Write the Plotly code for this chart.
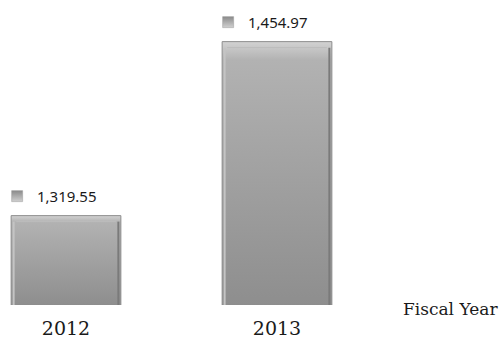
import plotly.graph_objects as go

# Revenue by fiscal year
years = ["2012", "2013"]
values = [1319.55, 1454.97]
value_labels = ["1,319.55", "1,454.97"]

AXIS_MIN = 1250
BAR_W = 0.52

W, H = 503, 339
PLOT_B = 34
PLOT_H = H - PLOT_B
PX_PER_CAT = 211
X0 = -66 / PX_PER_CAT
X1 = X0 + W / PX_PER_CAT
PX_PER_UNIT = 174 / 135.42
Y1 = AXIS_MIN + PLOT_H / PX_PER_UNIT

fig = go.Figure()

idx = list(range(len(years)))
ex = 2.5 / PX_PER_CAT
ey = 6 / PX_PER_UNIT
for i, v in zip(idx, values):
    xl, xr = i - BAR_W / 2, i + BAR_W / 2
    # bar body with vertical shading
    fig.add_trace(go.Scatter(
        x=[xl, xr, xr, xl, xl], y=[AXIS_MIN, AXIS_MIN, v, v, AXIS_MIN],
        mode="lines", fill="toself", line=dict(color="#8c8c8c", width=1),
        fillgradient=dict(type="vertical",
                          colorscale=[[0, "#8e8e8e"], [0.6, "#a5a5a5"], [0.93, "#b2b2b2"], [1, "#d2d2d2"]]),
        hoverinfo="skip", showlegend=False))
    # bevel: light top rim, light left edge, dark right edge
    fig.add_trace(go.Scatter(
        x=[xl + 2 * ex, xr - 2 * ex], y=[v - ey, v - ey], mode="lines",
        line=dict(color="#bcbcbc", width=1), hoverinfo="skip", showlegend=False))
    fig.add_trace(go.Scatter(
        x=[xl + ex, xl + ex], y=[AXIS_MIN, v - ey], mode="lines",
        line=dict(color="#c4c4c4", width=2), hoverinfo="skip", showlegend=False))
    fig.add_trace(go.Scatter(
        x=[xr - ex, xr - ex], y=[AXIS_MIN, v - ey], mode="lines",
        line=dict(color="#7a7a7a", width=2), hoverinfo="skip", showlegend=False))

# legend-style square next to each value label
icon_dx = 6 / PX_PER_CAT
icon_dy = 19.5 / PX_PER_UNIT
fig.add_trace(go.Scatter(
    x=[i - BAR_W / 2 + icon_dx for i in idx],
    y=[v + icon_dy for v in values],
    mode="markers",
    marker=dict(symbol="square", size=11, color="#8a8a8a",
                gradient=dict(type="vertical", color="#d0d0d0"),
                line=dict(width=0.5, color="#9a9a9a")),
    hoverinfo="skip", showlegend=False))

for i, v, t in zip(idx, values, value_labels):
    fig.add_annotation(
        x=i - BAR_W / 2, y=v, text=t, showarrow=False,
        xanchor="left", yanchor="middle", xshift=24, yshift=19.5,
        font=dict(family="Noto Sans", size=15, color="#1a1a1a"))

fig.add_annotation(
    xref="paper", yref="paper", x=500 / W, y=-4 / PLOT_H,
    text="Fiscal Year", showarrow=False, xanchor="right", yanchor="middle",
    font=dict(family="DejaVu Serif", size=17, color="#1a1a1a"))

fig.update_xaxes(range=[X0, X1], tickvals=idx, ticktext=years,
                 showgrid=False, zeroline=False, showline=False, ticks="",
                 ticklabelstandoff=10,
                 tickfont=dict(family="DejaVu Serif", size=19, color="#1a1a1a"))
fig.update_yaxes(range=[AXIS_MIN, Y1], visible=False, showgrid=False, zeroline=False)

fig.update_layout(
    width=W, height=H,
    margin=dict(l=0, r=0, t=0, b=PLOT_B, autoexpand=False),
    paper_bgcolor="white", plot_bgcolor="white",
)

fig.write_html("out.html")
